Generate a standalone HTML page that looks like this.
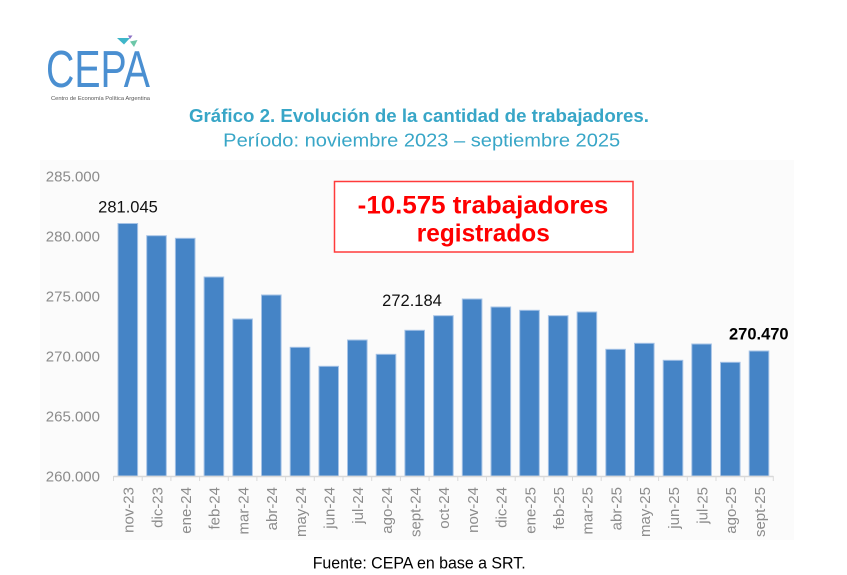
<!DOCTYPE html>
<html>
<head>
<meta charset="utf-8">
<style>
html,body{margin:0;padding:0;background:#ffffff;}
svg{display:block;}
text{font-family:"Liberation Sans",Arial,sans-serif;}
</style>
</head>
<body>
<svg width="847" height="575" viewBox="0 0 847 575" xmlns="http://www.w3.org/2000/svg">
  <rect x="0" y="0" width="847" height="575" fill="#ffffff"/>

  <!-- Logo -->
  <polygon points="117,38 130,38 124,44.5" fill="#3fb6c9"/>
  <polygon points="128,35.5 132.5,35.5 130,39" fill="#8a6fc4"/>
  <polygon points="130,41.5 137.5,40 134,47" fill="#6cc7a8"/>
  <text x="46" y="87" font-size="52" fill="#4a8fd1" textLength="104" lengthAdjust="spacingAndGlyphs">CEPA</text>
  <text x="51" y="100" font-size="5.6" fill="#555555" textLength="99" lengthAdjust="spacingAndGlyphs">Centro de Economía Política Argentina</text>

  <!-- Title -->
  <text x="419" y="122" font-size="18.5" font-weight="bold" fill="#38a6c7" text-anchor="middle" textLength="460" lengthAdjust="spacingAndGlyphs">Gráfico 2. Evolución de la cantidad de trabajadores.</text>
  <text x="421.7" y="146.5" font-size="18.5" fill="#38a6c7" text-anchor="middle" textLength="397" lengthAdjust="spacingAndGlyphs">Período: noviembre 2023 – septiembre 2025</text>

  <!-- Chart panel -->
  <rect x="40" y="160" width="754" height="380" fill="#fbfbfb"/>

  <!-- Y labels -->
  <g font-size="15" fill="#8c8c8c" text-anchor="end">
    <text x="100" y="181.5">285.000</text>
    <text x="100" y="241.5">280.000</text>
    <text x="100" y="301.5">275.000</text>
    <text x="100" y="361.5">270.000</text>
    <text x="100" y="421.5">265.000</text>
    <text x="100" y="481.5">260.000</text>
  </g>

  <!-- Bars -->
  <g fill="#4584c6" stroke="#a6c3e6" stroke-width="1">
    <rect x="118.0" y="223.5" width="19.6" height="252.5"/>
    <rect x="146.7" y="235.7" width="19.6" height="240.3"/>
    <rect x="175.4" y="238.3" width="19.6" height="237.7"/>
    <rect x="204.1" y="277.0" width="19.6" height="199.0"/>
    <rect x="232.8" y="319.0" width="19.6" height="157.0"/>
    <rect x="261.5" y="295.0" width="19.6" height="181.0"/>
    <rect x="290.2" y="347.3" width="19.6" height="128.7"/>
    <rect x="318.9" y="366.3" width="19.6" height="109.7"/>
    <rect x="347.5" y="340.0" width="19.6" height="136.0"/>
    <rect x="376.2" y="354.3" width="19.6" height="121.7"/>
    <rect x="404.9" y="330.3" width="19.6" height="145.7"/>
    <rect x="433.6" y="315.7" width="19.6" height="160.3"/>
    <rect x="462.3" y="299.0" width="19.6" height="177.0"/>
    <rect x="491.0" y="307.0" width="19.6" height="169.0"/>
    <rect x="519.7" y="310.3" width="19.6" height="165.7"/>
    <rect x="548.4" y="315.7" width="19.6" height="160.3"/>
    <rect x="577.1" y="312.0" width="19.6" height="164.0"/>
    <rect x="605.8" y="349.3" width="19.6" height="126.7"/>
    <rect x="634.5" y="343.3" width="19.6" height="132.7"/>
    <rect x="663.2" y="360.3" width="19.6" height="115.7"/>
    <rect x="691.8" y="344.0" width="19.6" height="132.0"/>
    <rect x="720.5" y="362.3" width="19.6" height="113.7"/>
    <rect x="749.2" y="351.0" width="19.6" height="125.0"/>
  </g>

  <!-- X axis -->
  <line x1="113.5" y1="476.5" x2="773.3" y2="476.5" stroke="#d9d9d9" stroke-width="1.5"/>
  <g stroke="#d9d9d9" stroke-width="1">
    <line x1="113.5" y1="476" x2="113.5" y2="481"/>
    <line x1="142.2" y1="476" x2="142.2" y2="481"/>
    <line x1="170.9" y1="476" x2="170.9" y2="481"/>
    <line x1="199.6" y1="476" x2="199.6" y2="481"/>
    <line x1="228.3" y1="476" x2="228.3" y2="481"/>
    <line x1="256.9" y1="476" x2="256.9" y2="481"/>
    <line x1="285.6" y1="476" x2="285.6" y2="481"/>
    <line x1="314.3" y1="476" x2="314.3" y2="481"/>
    <line x1="343.0" y1="476" x2="343.0" y2="481"/>
    <line x1="371.7" y1="476" x2="371.7" y2="481"/>
    <line x1="400.4" y1="476" x2="400.4" y2="481"/>
    <line x1="429.1" y1="476" x2="429.1" y2="481"/>
    <line x1="457.8" y1="476" x2="457.8" y2="481"/>
    <line x1="486.5" y1="476" x2="486.5" y2="481"/>
    <line x1="515.2" y1="476" x2="515.2" y2="481"/>
    <line x1="543.9" y1="476" x2="543.9" y2="481"/>
    <line x1="572.5" y1="476" x2="572.5" y2="481"/>
    <line x1="601.2" y1="476" x2="601.2" y2="481"/>
    <line x1="629.9" y1="476" x2="629.9" y2="481"/>
    <line x1="658.6" y1="476" x2="658.6" y2="481"/>
    <line x1="687.3" y1="476" x2="687.3" y2="481"/>
    <line x1="716.0" y1="476" x2="716.0" y2="481"/>
    <line x1="744.7" y1="476" x2="744.7" y2="481"/>
    <line x1="773.3" y1="476" x2="773.3" y2="481"/>
  </g>

  <!-- X labels -->
  <g font-size="15" fill="#8c8c8c" text-anchor="end">
    <text transform="translate(133.6,487) rotate(-90)">nov-23</text>
    <text transform="translate(162.3,487) rotate(-90)">dic-23</text>
    <text transform="translate(191.0,487) rotate(-90)">ene-24</text>
    <text transform="translate(219.7,487) rotate(-90)">feb-24</text>
    <text transform="translate(248.4,487) rotate(-90)">mar-24</text>
    <text transform="translate(277.1,487) rotate(-90)">abr-24</text>
    <text transform="translate(305.8,487) rotate(-90)">may-24</text>
    <text transform="translate(334.5,487) rotate(-90)">jun-24</text>
    <text transform="translate(363.1,487) rotate(-90)">jul-24</text>
    <text transform="translate(391.8,487) rotate(-90)">ago-24</text>
    <text transform="translate(420.5,487) rotate(-90)">sept-24</text>
    <text transform="translate(449.2,487) rotate(-90)">oct-24</text>
    <text transform="translate(477.9,487) rotate(-90)">nov-24</text>
    <text transform="translate(506.6,487) rotate(-90)">dic-24</text>
    <text transform="translate(535.3,487) rotate(-90)">ene-25</text>
    <text transform="translate(564.0,487) rotate(-90)">feb-25</text>
    <text transform="translate(592.7,487) rotate(-90)">mar-25</text>
    <text transform="translate(621.4,487) rotate(-90)">abr-25</text>
    <text transform="translate(650.1,487) rotate(-90)">may-25</text>
    <text transform="translate(678.8,487) rotate(-90)">jun-25</text>
    <text transform="translate(707.4,487) rotate(-90)">jul-25</text>
    <text transform="translate(736.1,487) rotate(-90)">ago-25</text>
    <text transform="translate(764.8,487) rotate(-90)">sept-25</text>
  </g>

  <!-- Data labels -->
  <text x="128" y="212.3" font-size="16.5" fill="#111111" text-anchor="middle">281.045</text>
  <text x="412" y="306" font-size="16.5" fill="#111111" text-anchor="middle">272.184</text>
  <text x="758.8" y="339.3" font-size="16.5" font-weight="bold" fill="#000000" text-anchor="middle">270.470</text>

  <!-- Red callout box -->
  <rect x="334.5" y="181.5" width="298.5" height="70.5" fill="#ffffff" stroke="#ff3b3b" stroke-width="1.5"/>
  <text x="483" y="213.3" font-size="25" font-weight="bold" fill="#ff0000" text-anchor="middle" textLength="250.6" lengthAdjust="spacingAndGlyphs">-10.575 trabajadores</text>
  <text x="483.3" y="241.7" font-size="25" font-weight="bold" fill="#ff0000" text-anchor="middle" textLength="133" lengthAdjust="spacingAndGlyphs">registrados</text>

  <!-- Footer -->
  <text x="312.7" y="568.3" font-size="16.5" fill="#000000" textLength="213" lengthAdjust="spacingAndGlyphs">Fuente: CEPA en base a SRT.</text>
</svg>
</body>
</html>
